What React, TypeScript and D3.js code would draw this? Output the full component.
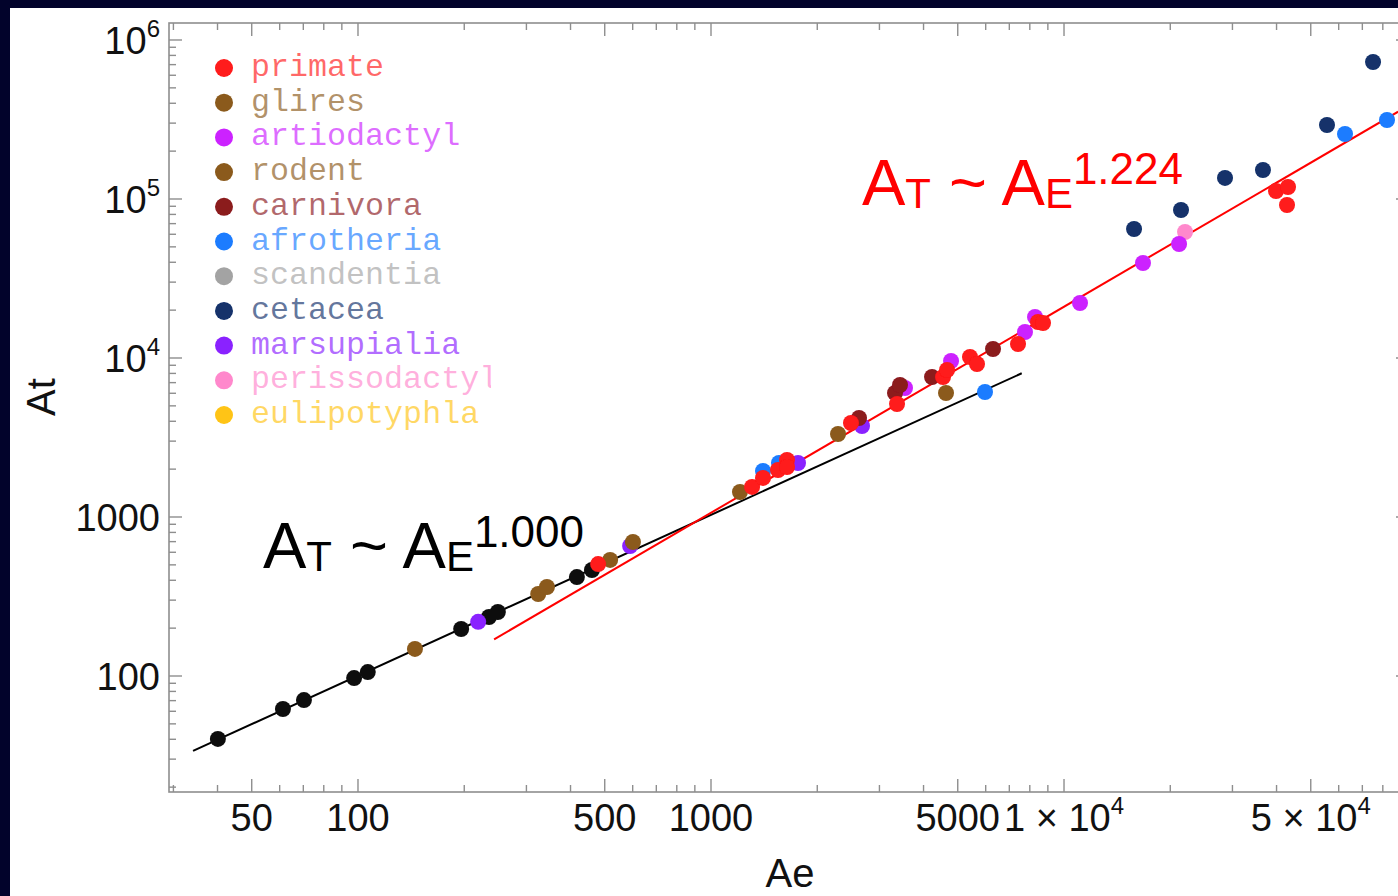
import React, { useRef, useEffect } from 'react';
import * as d3 from 'd3';

// legend order, as listed in the key
const groups = [
  'primate',
  'glires',
  'artiodactyl',
  'rodent',
  'carnivora',
  'afrotheria',
  'scandentia',
  'cetacea',
  'marsupialia',
  'perissodactyl',
  'eulipotyphla',
];
const groupColors = [
  '#ff1a1a',
  '#8b5a1b',
  '#cc22ff',
  '#8b5a1b',
  '#8b1a1f',
  '#1a7bff',
  '#a3a3a3',
  '#12306b',
  '#8a22ff',
  '#ff88cc',
  '#ffc414',
];

// [Ae, At] pairs per group
const other = [
  [40.1, 40.2], [61.3, 62.0], [70.3, 70.6], [97.5, 97.0], [106.6, 105.9],
  [196, 197.5], [235, 235], [249, 252.6], [417, 419], [460, 464],
];
const primate = [
  [479, 506], [1307, 1545], [1404, 1760], [1548, 1975], [1642, 2283], [1642, 2063],
  [2492, 3902], [3365, 5136], [4542, 7596], [4663, 8405], [5416, 10146], [5669, 9170],
  [7408, 12250], [8440, 16840], [8720, 16600], [39860, 112300], [43110, 119000], [42830, 91700],
];
const glires = [[145, 148], [518, 537], [4632, 6026]];
const rodent = [[324, 328], [343, 363], [601, 696], [1208, 1436], [2290, 3327]];
const marsupialia = [[219, 219], [590, 657], [1764, 2186], [2678, 3736]];
const afrotheria = [[1404, 1947], [1558, 2186], [5973, 6114], [62520, 256300], [82230, 314000]];
const carnivora = [[2626, 4195], [3321, 6026], [3431, 6765], [4228, 7596], [6294, 11395]];
const artiodactyl = [
  [3545, 6477], [4786, 9575], [7753, 14570], [8277, 18110], [11100, 22180],
  [16740, 39580], [21180, 52120],
];
const cetacea = [
  [15790, 64750], [21450, 85270], [28580, 135600], [36610, 152200], [55590, 292100], [75060, 727000],
];
const perissodactyl = [[22020, 62000]];

const fitSmall = [[34.1, 33.8], [7590, 8014]];
const fitLarge = [[243, 170], [88400, 354000]];
const fitSmallExponent = '1.000';
const fitLargeExponent = '1.224';

const xMajorTicks = [50, 100, 500, 1000, 5000, 10000, 50000];
const xTickLabels = ['50', '100', '500', '1000', '5000', '1 × 10^4', '5 × 10^4'];
const yMajorTicks = [100, 1000, 10000, 100000, 1000000];
const yTickLabels = ['100', '1000', '10^4', '10^5', '10^6'];

const SANS = "'Liberation Sans', Arial, sans-serif";
const MONO = "'Liberation Mono', 'Courier New', monospace";

const App = () => {
  const ref = useRef(null);

  useEffect(() => {
    const W = 1398;
    const H = 896;
    const left = 169;
    const right = 1409;
    const top = 23;
    const bottom = 792;

    const svg = d3.select(ref.current);
    svg.selectAll('*').remove();
    svg.attr('width', W).attr('height', H);

    svg.append('rect').attr('width', W).attr('height', H).attr('fill', '#02032b');
    svg.append('rect').attr('x', 10).attr('y', 8).attr('width', W - 10).attr('height', H - 8).attr('fill', '#fff');

    const x = d3.scaleLog().domain([29.15, 94900]).range([left, right]);
    const y = d3.scaleLog().domain([18.64, 1.279e6]).range([bottom, top]);

    const defs = svg.append('defs');
    defs.append('clipPath').attr('id', 'plotClip')
      .append('rect').attr('x', left).attr('y', top).attr('width', right - left).attr('height', bottom - top);
    defs.append('clipPath').attr('id', 'legendClip')
      .append('rect').attr('x', 180).attr('y', 40).attr('width', 311).attr('height', 400);
    defs.append('filter').attr('id', 'soft')
      .append('feGaussianBlur').attr('stdDeviation', 0.7);

    // frame + ticks on all four sides
    const axisColor = '#8e8e8e';
    svg.append('rect')
      .attr('x', left).attr('y', top).attr('width', right - left).attr('height', bottom - top)
      .attr('fill', 'none').attr('stroke', axisColor).attr('stroke-width', 1.6);

    const ticks = svg.append('g').attr('stroke', axisColor).attr('stroke-width', 1.4);
    x.ticks().forEach((t) => {
      const len = xMajorTicks.includes(t) ? 13 : 7;
      const px = x(t);
      ticks.append('line').attr('x1', px).attr('x2', px).attr('y1', bottom).attr('y2', bottom - len);
      ticks.append('line').attr('x1', px).attr('x2', px).attr('y1', top).attr('y2', top + len);
    });
    y.ticks().forEach((t) => {
      const len = yMajorTicks.includes(t) ? 13 : 7;
      const py = y(t);
      ticks.append('line').attr('x1', left).attr('x2', left + len).attr('y1', py).attr('y2', py);
      ticks.append('line').attr('x1', right).attr('x2', right - len).attr('y1', py).attr('y2', py);
    });

    const writeLabel = (sel, str) => {
      const [base, exp] = str.split('^');
      sel.append('tspan').text(base);
      if (exp) sel.append('tspan').attr('font-size', 24).attr('dy', -17).text(exp);
    };

    xMajorTicks.forEach((t, i) => {
      const lbl = svg.append('text')
        .attr('x', x(t)).attr('y', 831)
        .attr('text-anchor', 'middle')
        .attr('font-family', SANS).attr('font-size', 38).attr('fill', '#111')
        .style('white-space', 'pre');
      writeLabel(lbl, xTickLabels[i]);
    });
    yMajorTicks.forEach((t, i) => {
      const lbl = svg.append('text')
        .attr('x', 160).attr('y', y(t) + 14)
        .attr('text-anchor', 'end')
        .attr('font-family', SANS).attr('font-size', 38).attr('fill', '#111');
      writeLabel(lbl, yTickLabels[i]);
    });

    svg.append('text')
      .attr('x', 790).attr('y', 887).attr('text-anchor', 'middle')
      .attr('font-family', SANS).attr('font-size', 40).attr('fill', '#111')
      .text('Ae');
    svg.append('text')
      .attr('transform', 'translate(55,397) rotate(-90)').attr('text-anchor', 'middle')
      .attr('font-family', SANS).attr('font-size', 40).attr('fill', '#111')
      .text('At');

    // fit lines
    const plot = svg.append('g').attr('clip-path', 'url(#plotClip)');
    const line = d3.line().x((d) => x(d[0])).y((d) => y(d[1]));
    plot.append('path').datum(fitSmall)
      .attr('fill', 'none').attr('stroke', '#000').attr('stroke-width', 2).attr('d', line);
    plot.append('path').datum(fitLarge)
      .attr('fill', 'none').attr('stroke', '#ff0000').attr('stroke-width', 2).attr('d', line);

    // points, drawn back to front
    const series = [
      { pts: other, color: '#111111' },
      { pts: perissodactyl, color: groupColors[groups.indexOf('perissodactyl')] },
      { pts: marsupialia, color: groupColors[groups.indexOf('marsupialia')] },
      { pts: glires, color: groupColors[groups.indexOf('glires')] },
      { pts: rodent, color: groupColors[groups.indexOf('rodent')] },
      { pts: afrotheria, color: groupColors[groups.indexOf('afrotheria')] },
      { pts: artiodactyl, color: groupColors[groups.indexOf('artiodactyl')] },
      { pts: carnivora, color: groupColors[groups.indexOf('carnivora')] },
      { pts: cetacea, color: groupColors[groups.indexOf('cetacea')] },
      { pts: primate, color: groupColors[groups.indexOf('primate')] },
    ];
    const dots = plot.append('g').attr('filter', 'url(#soft)');
    series.forEach((s) => {
      dots.selectAll(null)
        .data(s.pts)
        .enter()
        .append('circle')
        .attr('cx', (d) => x(d[0]))
        .attr('cy', (d) => y(d[1]))
        .attr('r', 8)
        .attr('fill', s.color);
    });

    // legend
    const legend = svg.append('g').attr('clip-path', 'url(#legendClip)');
    groups.forEach((g, i) => {
      const cy = 68 + i * 34.7;
      legend.append('circle').attr('cx', 224).attr('cy', cy).attr('r', 9)
        .attr('fill', groupColors[i]).attr('filter', 'url(#soft)');
      legend.append('text')
        .attr('x', 251).attr('y', cy + 8)
        .attr('font-family', MONO).attr('font-size', 31.7)
        .attr('fill', groupColors[i]).attr('fill-opacity', 0.66)
        .text(g);
    });

    // fit annotations
    const annotate = (x0, y0, color, exponent) => {
      const t = svg.append('text')
        .attr('x', x0).attr('y', y0)
        .attr('fill', color).attr('font-family', SANS).attr('font-size', 65)
        .style('white-space', 'pre');
      t.append('tspan').text('A');
      t.append('tspan').attr('font-size', 42).attr('dy', 3).text('T');
      t.append('tspan').attr('dy', -3).text(' ~ A');
      t.append('tspan').attr('font-size', 42).attr('dy', 3).text('E');
      t.append('tspan').attr('font-size', 44).attr('dy', -24).text(exponent);
    };
    annotate(263, 568, '#000', fitSmallExponent);
    annotate(862, 205, '#ff0000', fitLargeExponent);
  }, []);

  return (
    <svg
      ref={ref}
      style={{ position: 'absolute', left: 0, top: 0, display: 'block' }}
    ></svg>
  );
};

export default App;
